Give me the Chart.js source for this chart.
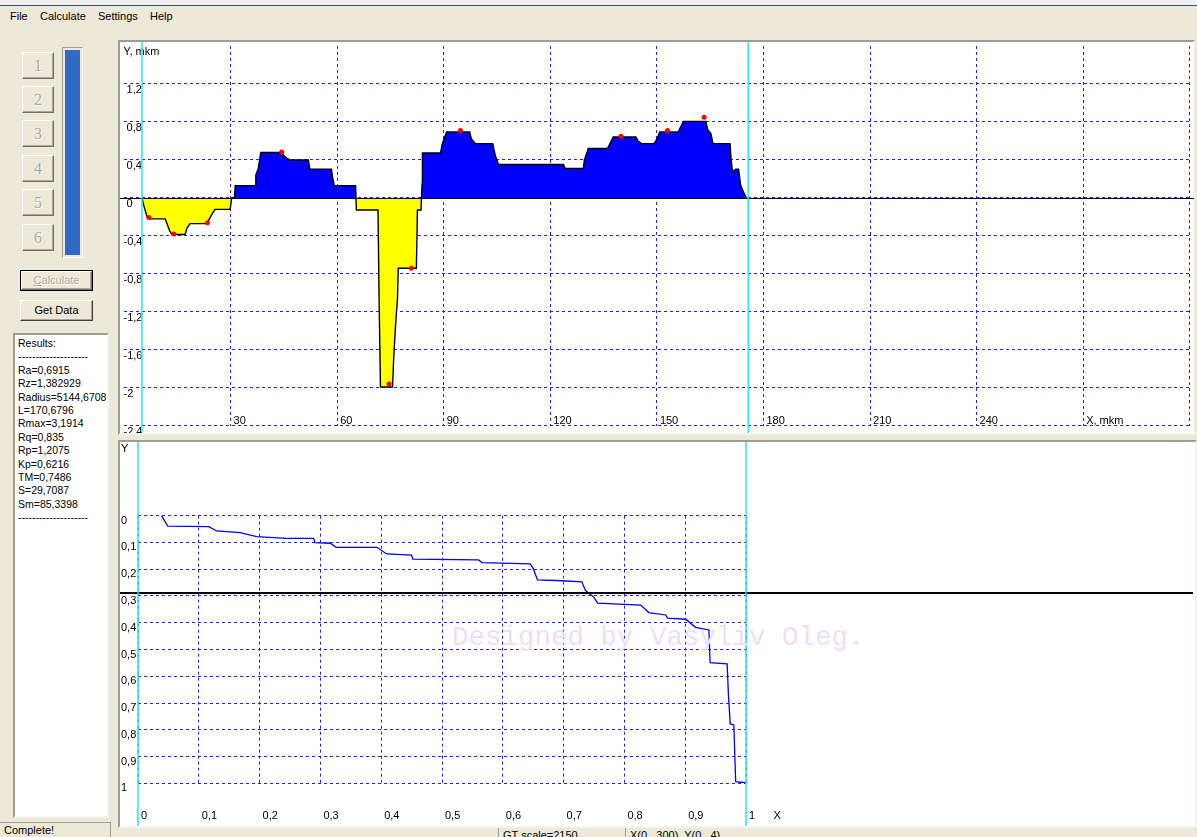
<!DOCTYPE html>
<html><head><meta charset="utf-8">
<script src="https://cdn.jsdelivr.net/npm/chart.js@4/dist/chart.umd.min.js"></script>
<style>
html,body{margin:0;padding:0;}
body{width:1197px;height:837px;overflow:hidden;background:#ECE9D8;position:relative;font-family:"Liberation Sans",Arial,sans-serif;font-size:11px;color:#000;}
.a{position:absolute;}
.menu span{position:absolute;top:10px;}
.btn{position:absolute;box-sizing:border-box;background:#ECE9D8;border:1px solid;border-color:#fff #716f64 #716f64 #fff;box-shadow:inset -1px -1px 0 #aca899;text-align:center;}
.num{font-family:"Liberation Serif","DejaVu Serif",serif;font-size:16px;color:#aca899;text-shadow:1px 1px 0 #fff;line-height:25px;}
.panel{position:absolute;box-sizing:border-box;background:#fff;border:2px solid;border-color:#9d9d92 #f4f3ee #f4f3ee #9d9d92;}
.res div{height:13.4px;line-height:13.4px;white-space:nowrap;}
canvas{position:absolute;}
</style></head><body>
<div class="a" style="left:0;top:0;width:1197px;height:5px;background:#f3f2ec"></div>
<div class="a" style="left:0;top:5px;width:1197px;height:1px;background:#2452b8"></div>
<div class="menu">
  <span style="left:10px">File</span>
  <span style="left:40px">Calculate</span>
  <span style="left:98px">Settings</span>
  <span style="left:150px">Help</span>
</div>

<div class="btn num" style="left:22px;top:52px;width:32px;height:27px">1</div>
<div class="btn num" style="left:22px;top:86px;width:32px;height:27px">2</div>
<div class="btn num" style="left:22px;top:120px;width:32px;height:27px">3</div>
<div class="btn num" style="left:22px;top:155px;width:32px;height:27px">4</div>
<div class="btn num" style="left:22px;top:189px;width:32px;height:27px">5</div>
<div class="btn num" style="left:22px;top:224px;width:32px;height:27px">6</div>
<div class="a" style="left:62px;top:47px;width:21px;height:211px;box-sizing:border-box;border:1px solid;border-color:#9d9d92 #fff #fff #9d9d92;padding:2px;background:#ECE9D8"><div style="width:100%;height:100%;background:#316AC5"></div></div>

<div class="a" style="left:20px;top:270px;width:73px;height:21px;box-sizing:border-box;border:1px solid #000;">
  <div class="btn" style="left:0;top:0;width:71px;height:19px;line-height:17px;color:#aca899;text-shadow:1px 1px 0 #fff"><u>C</u>alculate</div>
</div>
<div class="btn" style="left:20px;top:300px;width:73px;height:21px;line-height:19px;border-color:#fff #404040 #404040 #fff;box-shadow:inset -1px -1px 0 #aca899">Get Data</div>

<div class="a res" style="left:13px;top:333px;width:96px;height:485px;box-sizing:border-box;border:2px solid;border-color:#9d9d92 #f4f3ee #f4f3ee #9d9d92;background:#fff;overflow:hidden;padding:2px 0 0 3px;font-size:10.5px">
  <div>Results:</div>
  <div>--------------------</div>
  <div>Ra=0,6915</div>
  <div>Rz=1,382929</div>
  <div>Radius=5144,6708</div>
  <div>L=170,6796</div>
  <div>Rmax=3,1914</div>
  <div>Rq=0,835</div>
  <div>Rp=1,2075</div>
  <div>Kp=0,6216</div>
  <div>TM=0,7486</div>
  <div>S=29,7087</div>
  <div>Sm=85,3398</div>
  <div>--------------------</div>
</div>

<div class="a" style="left:0;top:822px;width:111px;height:15px;box-sizing:border-box;border-top:1px solid #9d9d92;border-right:1px solid #9d9d92;"></div>
<div class="a" style="left:4px;top:824px;">Complete!</div>
<div class="a" style="left:498px;top:826px;width:1px;height:11px;background:#9d9d92"></div>
<div class="a" style="left:625px;top:826px;width:1px;height:11px;background:#9d9d92"></div>
<div class="a" style="left:503px;top:829px;white-space:nowrap">GT scale=2150</div>
<div class="a" style="left:630px;top:829px;white-space:nowrap">X(0...300), Y(0...4)</div>

<div class="panel" style="left:118px;top:40px;width:1077px;height:395px"></div>
<canvas id="top" width="1074" height="391" style="left:120px;top:42px"></canvas>

<div class="panel" style="left:118px;top:440px;width:1079px;height:388px"></div>
<canvas id="bot" width="1073" height="384" style="left:120px;top:442px"></canvas>
<div class="a" style="left:121px;top:442px">Y</div>
<div class="a" style="left:452px;top:623px;font-family:'Liberation Mono','Courier New',monospace;font-size:27.5px;line-height:30px;color:#f0dcf8;white-space:nowrap">Designed by Vasyliv Oleg.</div>

<script>
// ---------- top chart: profile ----------
const topXTicks = [0, 30, 60, 90, 120, 150, 180, 210, 240, 270, 300];
const topXLabels = ['', '30', '60', '90', '120', '150', '180', '210', '240', 'X, mkm', ''];
const topYTicks = [-2.4, -2, -1.6, -1.2, -0.8, -0.4, 0, 0.4, 0.8, 1.2, 1.6];
const topYLabels = ['-2,4', '-2', '-1,6', '-1,2', '-0,8', '-0,4', ' 0', ' 0,4', ' 0,8', ' 1,2', 'Y, mkm'];

const profileX = [5.06, 5.5, 6.5, 7.0, 11.6, 12.4, 12.9, 13.5, 17.2, 17.7, 18.6, 23.3, 24.2, 24.7, 25.6, 29.9, 30.3,
  31.1, 31.3, 36.9, 37.1, 37.8, 38.5, 44.4, 44.9, 45.8, 46.7, 51.9, 52.3, 58.4, 58.7, 59.2, 65.2, 65.4,
  71.5, 71.8, 72.2, 75.6, 75.9, 76.4, 77.0, 77.2, 82.3, 82.6, 83.6, 83.9, 84.0,
  89.1, 89.6, 90.8, 97.3, 97.8, 98.9, 103.8, 104.5, 105.4, 123.7, 124.2, 129.3, 129.6, 130.7, 136.1, 136.8, 137.7,
  144.1, 144.7, 145.7, 149.2, 150.0, 150.8, 156.0, 156.7, 157.5, 163.8, 164.3, 165.2, 165.8, 170.6, 170.9, 171.3,
  172.2, 173.0, 173.6, 174.3, 175.2];
const profileY = [0, -0.07, -0.20, -0.22, -0.22, -0.30, -0.35, -0.385, -0.385, -0.32, -0.27, -0.27, -0.21, -0.175, -0.12, -0.12, 0,
  0, 0.129, 0.129, 0.24, 0.31, 0.478, 0.478, 0.45, 0.42, 0.40, 0.40, 0.304, 0.304, 0.22, 0.129, 0.129, -0.126,
  -0.126, -1.05, -1.99, -1.99, -1.70, -1.365, -1.05, -0.74, -0.74, -0.126, -0.126, 0.15, 0.474,
  0.474, 0.572, 0.694, 0.694, 0.62, 0.572, 0.572, 0.45, 0.352, 0.352, 0.31, 0.31, 0.40, 0.52, 0.52, 0.572, 0.642,
  0.642, 0.60, 0.572, 0.572, 0.62, 0.694, 0.694, 0.75, 0.806, 0.806, 0.72, 0.677, 0.572, 0.572, 0.40, 0.275,
  0.304, 0.304, 0.13, 0.07, 0];
const peakX = [7.0, 14.0, 23.5, 44.4, 74.6, 80.9, 94.7, 139.9, 153.0, 163.3];
const peakY = [-0.205, -0.38, -0.26, 0.485, -1.96, -0.74, 0.71, 0.65, 0.71, 0.85];
const profileBounds = [5.06, 175.7];
const profileZero = [0];

// ---------- bottom chart: bearing curve ----------
const botXTicks = [0, 0.1, 0.2, 0.3, 0.4, 0.5, 0.6, 0.7, 0.8, 0.9, 1];
const botXLabels = ['0', '0,1', '0,2', '0,3', '0,4', '0,5', '0,6', '0,7', '0,8', '0,9', '1      X'];
const botYTicks = [0, 0.1, 0.2, 0.3, 0.4, 0.5, 0.6, 0.7, 0.8, 0.9, 1];
const botYLabels = ['0', '0,1', '0,2', '0,3', '0,4', '0,5', '0,6', '0,7', '0,8', '0,9', '1'];
const bearingX = [0.0385, 0.049, 0.1165, 0.129, 0.168, 0.195, 0.245, 0.289, 0.291, 0.316, 0.326, 0.393, 0.409, 0.45, 0.452,
  0.56, 0.566, 0.645, 0.65, 0.657, 0.697, 0.73, 0.736, 0.75, 0.756, 0.827, 0.84, 0.868, 0.871, 0.901, 0.917, 0.939,
  0.941, 0.969, 0.971, 0.974, 0.98, 0.983, 0.9995];
const bearingY = [0.0, 0.039, 0.041, 0.057, 0.063, 0.078, 0.085, 0.085, 0.101, 0.103, 0.118, 0.118, 0.143, 0.147, 0.162,
  0.165, 0.175, 0.18, 0.197, 0.24, 0.243, 0.247, 0.28, 0.305, 0.327, 0.334, 0.362, 0.371, 0.383, 0.387, 0.417, 0.427,
  0.549, 0.554, 0.664, 0.778, 0.782, 0.994, 0.998];
const bearingBounds = [0, 1];
const cutLevel = [0.289];

const FONT = {family: "'Liberation Sans', Arial, sans-serif", size: 11};
const GRID = '#1f1fff';

function fixSize(w, h) {
  return s => {
    if (w !== null) s.width = w;
    if (h !== null) s.height = h;
    s.paddingLeft = 0; s.paddingRight = 0; s.paddingTop = 0; s.paddingBottom = 0;
  };
}
// grid line hidden under the panel frame for the given edge value
function gridExcept(edge) {
  return ctx => (ctx.tick && ctx.tick.value === edge) ? 'rgba(0,0,0,0)' : GRID;
}

const guideLines = {
  id: 'guideLines',
  afterDatasetsDraw(chart, args, opts) {
    const ctx = chart.ctx;
    ctx.save();
    ctx.setLineDash([]);
    (opts.h || []).forEach(l => {
      l.values.forEach(v => {
        let y = chart.scales.y.getPixelForValue(v);
        y = l.width % 2 ? Math.round(y) + 0.5 : Math.round(y);
        ctx.strokeStyle = l.color; ctx.lineWidth = l.width;
        ctx.beginPath(); ctx.moveTo(0, y); ctx.lineTo(chart.width, y); ctx.stroke();
      });
    });
    (opts.v || []).forEach(l => {
      l.values.forEach(v => {
        const x = chart.scales.x.getPixelForValue(v);
        ctx.strokeStyle = l.color; ctx.lineWidth = l.width;
        ctx.beginPath(); ctx.moveTo(x, 0); ctx.lineTo(x, chart.height); ctx.stroke();
      });
    });
    ctx.restore();
  }
};

new Chart(document.getElementById('top'), {
  type: 'line',
  data: {
    datasets: [
      {data: peakX.map((x, i) => ({x, y: peakY[i]})), showLine: false, pointRadius: 2.5, pointBackgroundColor: '#ff0000', pointBorderWidth: 0},
      {data: profileX.map((x, i) => ({x, y: profileY[i]})), borderColor: '#000', borderWidth: 1.4, pointRadius: 0, tension: 0,
       fill: {target: 'origin', above: '#0000ff', below: '#ffff00'}}
    ]
  },
  options: {
    responsive: false, animation: false, devicePixelRatio: 1,
    layout: {padding: {left: 2.25, top: 1.8, right: 4.25, bottom: 7.1}},
    plugins: {legend: {display: false}, tooltip: {enabled: false},
      guideLines: {h: [{values: profileZero, color: '#000', width: 1}], v: [{values: profileBounds, color: '#22e6ff', width: 1.5}]}},
    scales: {
      x: {type: 'linear', min: 0, max: 300,
        afterFit: fixSize(null, 0),
        afterBuildTicks: s => { s.ticks = topXTicks.map(v => ({value: v})); },
        grid: {color: gridExcept(topXTicks[0]), lineWidth: 1, drawTicks: false},
        border: {display: false, dash: [3, 3]},
        ticks: {autoSkip: false, maxRotation: 0, mirror: true, padding: -2, align: 'start', labelOffset: 3, color: '#000', font: FONT,
          callback: (v, i) => topXLabels[i]}},
      y: {type: 'linear', min: -2.4, max: 1.6,
        afterFit: fixSize(0, null),
        afterBuildTicks: s => { s.ticks = topYTicks.map(v => ({value: v})); },
        grid: {color: gridExcept(topYTicks[topYTicks.length - 1]), lineWidth: 1, drawTicks: false},
        border: {display: false, dash: [3, 3]},
        ticks: {autoSkip: false, mirror: true, padding: -0.5, labelOffset: 6, color: '#000', font: FONT,
          callback: (v, i) => topYLabels[i]}}
    }
  },
  plugins: [guideLines]
});

new Chart(document.getElementById('bot'), {
  type: 'line',
  data: {
    datasets: [
      {data: bearingX.map((x, i) => ({x, y: bearingY[i]})), borderColor: '#0000ff', borderWidth: 1.3, pointRadius: 0, tension: 0, fill: false}
    ]
  },
  options: {
    responsive: false, animation: false, devicePixelRatio: 1,
    layout: {padding: {left: 1, top: 73.7, right: 447, bottom: 0}},
    plugins: {legend: {display: false}, tooltip: {enabled: false},
      guideLines: {h: [{values: cutLevel, color: '#000', width: 2}], v: [{values: bearingBounds, color: '#22e6ff', width: 1.5}]}},
    scales: {
      x: {type: 'linear', min: 0, max: 1,
        afterFit: fixSize(null, 42.7),
        afterBuildTicks: s => { s.ticks = botXTicks.map(v => ({value: v})); },
        grid: {color: GRID, lineWidth: 1, drawTicks: false},
        border: {display: false, dash: [3, 3]},
        ticks: {autoSkip: false, maxRotation: 0, padding: 26, align: 'start', labelOffset: 3, color: '#000', font: FONT,
          callback: (v, i) => botXLabels[i]}},
      y: {type: 'linear', min: 0, max: 1, reverse: true,
        afterFit: fixSize(17, null),
        afterBuildTicks: s => { s.ticks = botYTicks.map(v => ({value: v})); },
        grid: {color: GRID, lineWidth: 1, drawTicks: false},
        border: {display: false, dash: [3, 3]},
        ticks: {autoSkip: false, crossAlign: 'far', padding: 0, labelOffset: 5, color: '#000', font: FONT,
          callback: (v, i) => botYLabels[i]}}
    }
  },
  plugins: [guideLines]
});
</script>
</body></html>
